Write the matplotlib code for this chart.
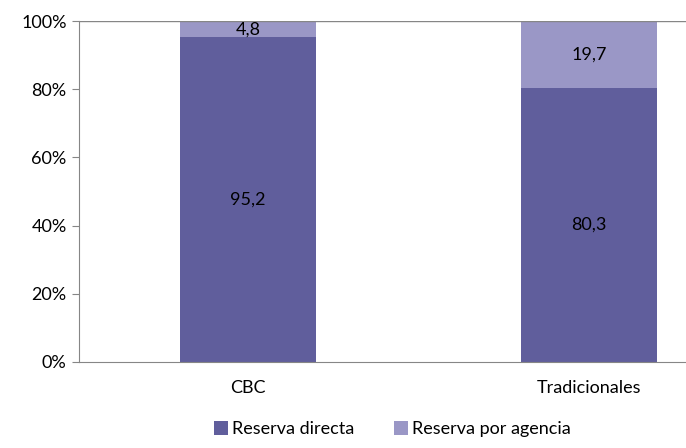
import matplotlib.pyplot as plt
from matplotlib.ticker import FuncFormatter

categories = ['CBC', 'Tradicionales']
directa = [95.2, 80.3]
agencia = [4.8, 19.7]
series_labels = ['Reserva directa', 'Reserva por agencia']
colors = ['#605E9C', '#9A97C6']

plt.rcParams['font.family'] = ['Lato', 'DejaVu Sans']

fig = plt.figure(figsize=(6.86, 4.48), dpi=100)
ax = fig.add_axes([0.1152, 0.192, 0.8848, 0.761])

x = list(range(len(categories)))
width = 0.40
ax.bar(x, directa, width, color=colors[0], label=series_labels[0])
ax.bar(x, agencia, width, bottom=directa, color=colors[1], label=series_labels[1])

for i in x:
    ax.text(i, directa[i] / 2, f"{directa[i]:.1f}".replace('.', ','),
            ha='center', va='center', fontsize=13, color='black')
    ax.text(i, directa[i] + agencia[i] / 2, f"{agencia[i]:.1f}".replace('.', ','),
            ha='center', va='center', fontsize=13, color='black')

ax.set_xlim(-0.496, 1.284)
ax.set_ylim(0, 100)
ax.set_yticks([0, 20, 40, 60, 80, 100])
ax.yaxis.set_major_formatter(FuncFormatter(lambda v, p: f"{int(v)}%"))
ax.set_xticks(x)
ax.set_xticklabels(categories)
ax.tick_params(axis='x', length=0, labelsize=13, pad=13)
ax.tick_params(axis='y', length=5, color='#868686', labelsize=13, pad=4)

ax.axhline(100, color='#868686', lw=1)
for s in ['top', 'right']:
    ax.spines[s].set_visible(False)
for s in ['left', 'bottom']:
    ax.spines[s].set_color('#868686')

fig.legend(loc='lower center', bbox_to_anchor=(0.572, -0.012), ncol=2, frameon=False,
           fontsize=13, handlelength=0.8, handleheight=0.8, handletextpad=0.2,
           columnspacing=2.2)

fig.savefig('out.png', dpi=100)
